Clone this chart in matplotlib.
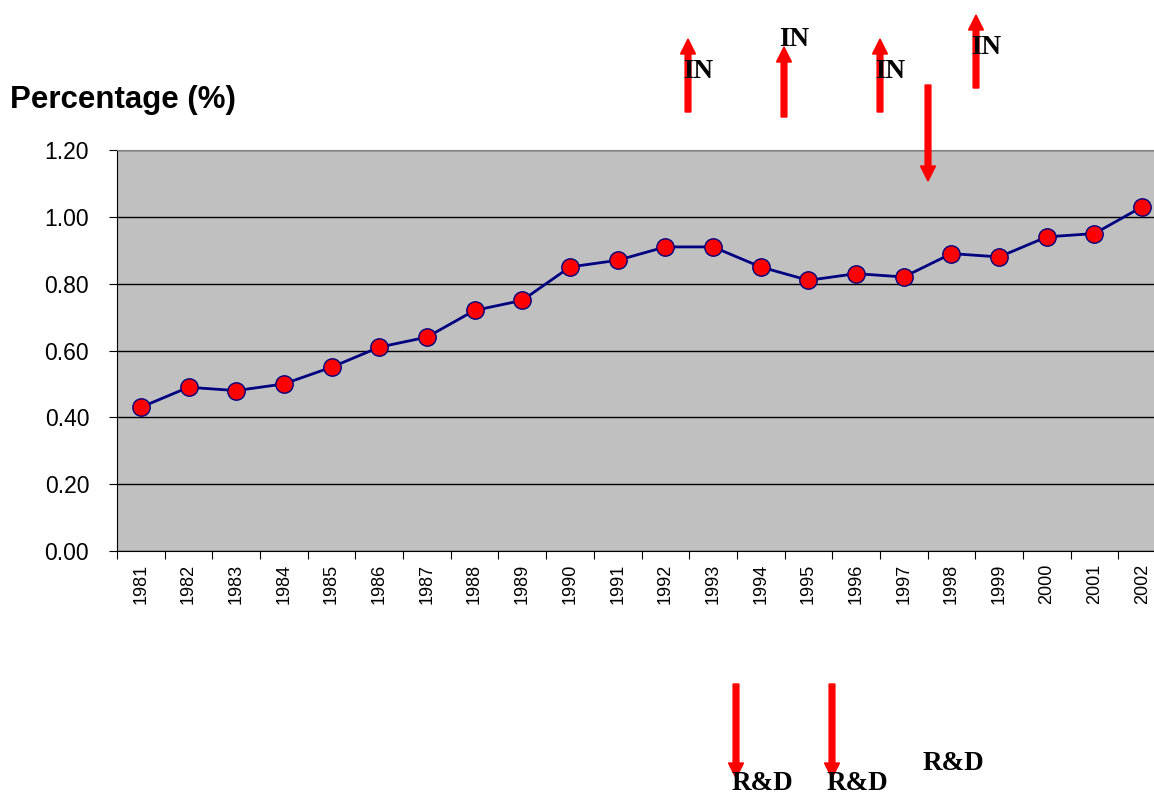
import matplotlib.pyplot as plt
import numpy as np

# data
years = ['1981', '1982', '1983', '1984', '1985', '1986', '1987', '1988', '1989', '1990', '1991',
         '1992', '1993', '1994', '1995', '1996', '1997', '1998', '1999', '2000', '2001', '2002']
values = [0.43, 0.49, 0.48, 0.50, 0.55, 0.61, 0.64, 0.72, 0.75, 0.85, 0.87,
          0.91, 0.91, 0.85, 0.81, 0.83, 0.82, 0.89, 0.88, 0.94, 0.95, 1.03]
y_ticks = [0.0, 0.2, 0.4, 0.6, 0.8, 1.0, 1.2]

W, H = 1154, 797
fig = plt.figure(figsize=(W / 100, H / 100), dpi=100)

# axes placed in pixel terms (right edge runs a little past the figure, as in the original)
left, right, top, bottom = 117, 1166, 150, 551
ax = fig.add_axes([left / W, 1 - bottom / H, (right - left) / W, (bottom - top) / H])
ax.set_facecolor('#c0c0c0')

x = np.arange(len(years))
ax.plot(x, values, color='#000080', linewidth=2, marker='o', markersize=12.5,
        markerfacecolor='#ff0000', markeredgecolor='#000080', markeredgewidth=1, zorder=3)

ax.set_xlim(-0.5, len(years) - 0.5)
ax.set_ylim(0, 1.2)
ax.set_yticks(y_ticks)
ax.set_yticklabels([f'{v:.2f}' for v in y_ticks], fontfamily='Liberation Sans', fontsize=16.5)
ax.yaxis.grid(True, color='black', linewidth=1)
ax.set_axisbelow(True)

# x ticks at category boundaries, labels centred
ax.set_xticks(np.arange(len(years) + 1) - 0.5)
ax.set_xticklabels([])
ax.set_xticks(x, minor=True)
ax.set_xticklabels(years, minor=True, rotation=90, fontfamily='Liberation Sans', fontsize=13)
ax.tick_params(axis='x', which='minor', length=0, pad=9)
ax.tick_params(axis='x', which='major', length=6, direction='out', color='black')
ax.tick_params(axis='y', length=6, direction='out', pad=14)

ax.spines['top'].set_color('#808080')
ax.spines['right'].set_color('#808080')
ax.spines['left'].set_color('black')
ax.spines['bottom'].set_color('black')

fig.text(10 / W, 1 - 100 / H, 'Percentage (%)', fontsize=22.5, fontweight='bold',
         fontfamily='Liberation Sans', va='center', ha='left')


def fx(px):
    return px / W


def fy(py):
    return 1 - py / H


def arrow(x0, y_tail, y_tip):
    fig.add_artist(plt.matplotlib.patches.FancyArrow(
        fx(x0), fy(y_tail), 0, fy(y_tip) - fy(y_tail), width=4 / H, head_width=15 / W,
        head_length=15 / H, length_includes_head=True, color='#ff0000',
        transform=fig.transFigure))


def note(xc, yc, s):
    fig.text(fx(xc), fy(yc), s, fontsize=19.5, fontweight='bold', fontfamily='Liberation Serif',
             ha='center', va='center')


# IN arrows (up)
arrow(688, 112, 39)
arrow(784, 117, 47)
arrow(880, 112, 39)
arrow(976, 88, 15)
# down arrow
arrow(928, 85, 181)
note(698, 71, 'IN')
note(794, 40, 'IN')
note(890, 71, 'IN')
note(986, 47, 'IN')

# R&D arrows
arrow(736, 684, 778)
arrow(832, 684, 778)
note(762, 784, 'R&D')
note(857, 784, 'R&D')
note(953, 763, 'R&D')

plt.savefig('out.png', dpi=100)
